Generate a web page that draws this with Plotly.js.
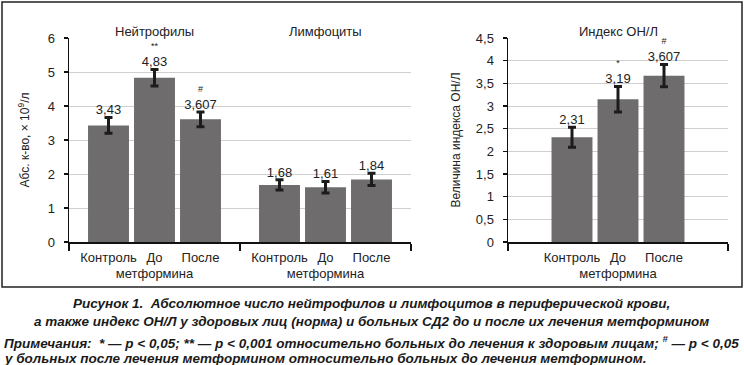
<!DOCTYPE html>
<html>
<head>
<meta charset="utf-8">
<script src="https://cdn.plot.ly/plotly-3.0.1.min.js"></script>
<style>html,body{margin:0;padding:0;background:#fff;}#chart{width:744px;height:365px;}</style>
</head>
<body>
<div id="chart"></div>
<script>
// ---------- data ----------
const groups = ["Нейтрофилы", "Лимфоциты"];
const conditions = ["Контроль", "До", "После"];
const conditionLabels = ["Контроль", "До<br>метформина", "После"];

const controlValues = [3.43, 1.68];
const beforeValues  = [4.83, 1.61];
const afterValues   = [3.607, 1.84];
const controlErr = [0.23, 0.15];
const beforeErr  = [0.24, 0.17];
const afterErr   = [0.22, 0.18];
const controlLabels = ["3,43", "1,68"];
const beforeLabels  = ["4,83", "1,61"];
const afterLabels   = ["3,607", "1,84"];
const controlMarks = ["", ""];
const beforeMarks  = ["**", ""];
const afterMarks   = ["#", ""];

const indexGroup  = ["Индекс ОН/Л"];
const indexValues = [2.31, 3.15, 3.67];
const indexErr    = [0.22, 0.28, 0.245];
const indexLabels = ["2,31", "3,19", "3,607"];
const indexMarks  = ["", "*", "#"];

const leftYTicks  = [0, 1, 2, 3, 4, 5, 6];
const rightYTicks = [0, 0.5, 1, 1.5, 2, 2.5, 3, 3.5, 4, 4.5];

// ---------- geometry ----------
const W = 744, H = 365;
const ml = 69, mr = 16, mt = 38, mb = 123;
const pw = W - ml - mr, ph = H - mt - mb;
const fx = px => (px - ml) / pw;
const fy = py => (H - mb - py) / ph;
const leftDom = [0, fx(411)];
const rightDom = [fx(508), 1];
const catPx = (411 - 69) / groups.length;
const rHalf = 0.5 * (728 - 508) / catPx;

const barColor = "#6e6c6d";
const errStyle = {type: "data", color: "#1c1c1c", thickness: 3, width: 4, visible: true};
const font = "Liberation Sans, Arial, sans-serif";
const labelFont = {family: font, size: 13, color: "#222"};
const hiddenMarker = {size: 14, opacity: 0, color: "#fff"};

function labelText(marks, labels) {
  return labels.map((l, i) => (marks[i] ? '<span style="font-size:9px">' + marks[i] + '</span><br>' : '') + l);
}

const panelA = [
  {vals: controlValues, err: controlErr, labels: controlLabels, marks: controlMarks},
  {vals: beforeValues, err: beforeErr, labels: beforeLabels, marks: beforeMarks},
  {vals: afterValues, err: afterErr, labels: afterLabels, marks: afterMarks}
];

const traces = [];
panelA.forEach((s, k) => {
  traces.push({
    type: "bar", x: groups, y: s.vals, name: conditions[k],
    offsetgroup: conditions[k], alignmentgroup: "a",
    marker: {color: barColor}, error_y: Object.assign({array: s.err}, errStyle),
    xaxis: "x", yaxis: "y", hoverinfo: "skip"
  });
});
panelA.forEach((s, k) => {
  traces.push({
    type: "scatter", mode: "text", x: groups, y: s.vals.map((v, i) => v + s.err[i]),
    text: labelText(s.marks, s.labels), textposition: "top center",
    textfont: labelFont,
    offsetgroup: conditions[k], alignmentgroup: "a", cliponaxis: false,
    xaxis: "x", yaxis: "y", hoverinfo: "skip"
  });
  traces.push({
    type: "scatter", mode: "markers+text", x: groups, y: groups.map(() => 0),
    text: groups.map(() => conditionLabels[k]), textposition: "bottom center",
    textfont: labelFont, marker: hiddenMarker,
    offsetgroup: conditions[k], alignmentgroup: "a", cliponaxis: false,
    xaxis: "x", yaxis: "y", hoverinfo: "skip"
  });
});

conditions.forEach((c, k) => {
  traces.push({
    type: "bar", x: indexGroup, y: [indexValues[k]], name: c,
    offsetgroup: c, alignmentgroup: "b",
    marker: {color: barColor}, error_y: Object.assign({array: [indexErr[k]]}, errStyle),
    xaxis: "x2", yaxis: "y2", hoverinfo: "skip"
  });
});
conditions.forEach((c, k) => {
  traces.push({
    type: "scatter", mode: "text", x: indexGroup, y: [indexValues[k] + indexErr[k]],
    text: labelText([indexMarks[k]], [indexLabels[k]]), textposition: "top center",
    textfont: labelFont,
    offsetgroup: c, alignmentgroup: "b", cliponaxis: false,
    xaxis: "x2", yaxis: "y2", hoverinfo: "skip"
  });
  traces.push({
    type: "scatter", mode: "markers+text", x: indexGroup, y: [0],
    text: [conditionLabels[k]], textposition: "bottom center",
    textfont: labelFont, marker: hiddenMarker,
    offsetgroup: c, alignmentgroup: "b", cliponaxis: false,
    xaxis: "x2", yaxis: "y2", hoverinfo: "skip"
  });
});

const yCommon = {
  showline: true, linecolor: "#111", linewidth: 1.5,
  ticks: "outside", ticklen: 4, tickcolor: "#111", tickwidth: 1.5,
  showgrid: true, gridcolor: "#cfcfcf", gridwidth: 1, zeroline: false,
  tickfont: {family: font, size: 13, color: "#222"}, ticklabelstandoff: 6,
  tickmode: "array"
};
const xCommon = {
  type: "category", showline: true, linecolor: "#111", linewidth: 1.5,
  ticks: "outside", ticklen: 7, tickcolor: "#111", tickwidth: 1.5,
  showticklabels: false, showgrid: false, zeroline: false, fixedrange: true
};

const capFont = {family: font, size: 13.5, color: "#1a1a1a", weight: "bold", style: "italic"};

const layout = {
  width: W, height: H, margin: {l: ml, r: mr, t: mt, b: mb},
  paper_bgcolor: "#fff", plot_bgcolor: "#fff",
  showlegend: false, separators: ", ",
  barmode: "group", bargap: 0.193, bargroupgap: 0.11,
  scattermode: "group", scattergap: 0.193,
  xaxis: Object.assign({}, xCommon, {domain: leftDom, anchor: "y", tickson: "boundaries", range: [-0.5, groups.length - 0.5]}),
  yaxis: Object.assign({}, yCommon, {domain: [0, 1], anchor: "x", range: [0, 6], tickvals: leftYTicks,
    title: {text: "Абс. к-во, × 10<sup>9</sup>/л", font: {family: font, size: 12, color: "#222"}, standoff: 15}}),
  xaxis2: Object.assign({}, xCommon, {domain: rightDom, anchor: "y2", range: [-rHalf, rHalf],
    tickmode: "array", tickvals: [-rHalf, rHalf], ticktext: [" ", " "]}),
  yaxis2: Object.assign({}, yCommon, {domain: [0, 1], anchor: "x2", range: [0, 4.5], tickvals: rightYTicks,
    title: {text: "Величина индекса ОН/Л", font: {family: font, size: 12, color: "#222"}, standoff: 12}}),
  annotations: [
    {xref: "x", yref: "paper", x: groups[0], y: fy(22), text: groups[0], showarrow: false, font: {family: font, size: 13, color: "#222"}},
    {xref: "x", yref: "paper", x: groups[1], y: fy(22), text: groups[1], showarrow: false, font: {family: font, size: 13, color: "#222"}},
    {xref: "x2", yref: "paper", x: indexGroup[0], y: fy(22), text: indexGroup[0], showarrow: false, font: {family: font, size: 13, color: "#222"}},
    {xref: "paper", yref: "paper", x: fx(371), y: fy(303), xanchor: "center", yanchor: "middle", showarrow: false, font: capFont,
      text: "Рисунок 1.\u00a0 Абсолютное число нейтрофилов и лимфоцитов в периферической крови,"},
    {xref: "paper", yref: "paper", x: fx(371), y: fy(321), xanchor: "center", yanchor: "middle", showarrow: false, font: capFont,
      text: "а также индекс ОН/Л у здоровых лиц (норма) и больных СД2 до и после их лечения метформином"},
    {xref: "paper", yref: "paper", x: fx(2), y: fy(342), xanchor: "left", yanchor: "middle", showarrow: false, font: capFont,
      text: "Примечания:\u00a0 * — p &lt; 0,05; ** — p &lt; 0,001 относительно больных до лечения к здоровым лицам; <sup>#</sup> — p &lt; 0,05"},
    {xref: "paper", yref: "paper", x: fx(2), y: fy(358), xanchor: "left", yanchor: "middle", showarrow: false, font: capFont,
      text: "у больных после лечения метформином относительно больных до лечения метформином."}
  ],
  shapes: [
    {type: "rect", xref: "paper", yref: "paper", x0: fx(2), x1: fx(742), y0: fy(287), y1: fy(2),
      line: {color: "#222", width: 1.5}, fillcolor: "rgba(0,0,0,0)"}
  ]
};

Plotly.newPlot("chart", traces, layout, {displayModeBar: false, staticPlot: true});
</script>
</body>
</html>
